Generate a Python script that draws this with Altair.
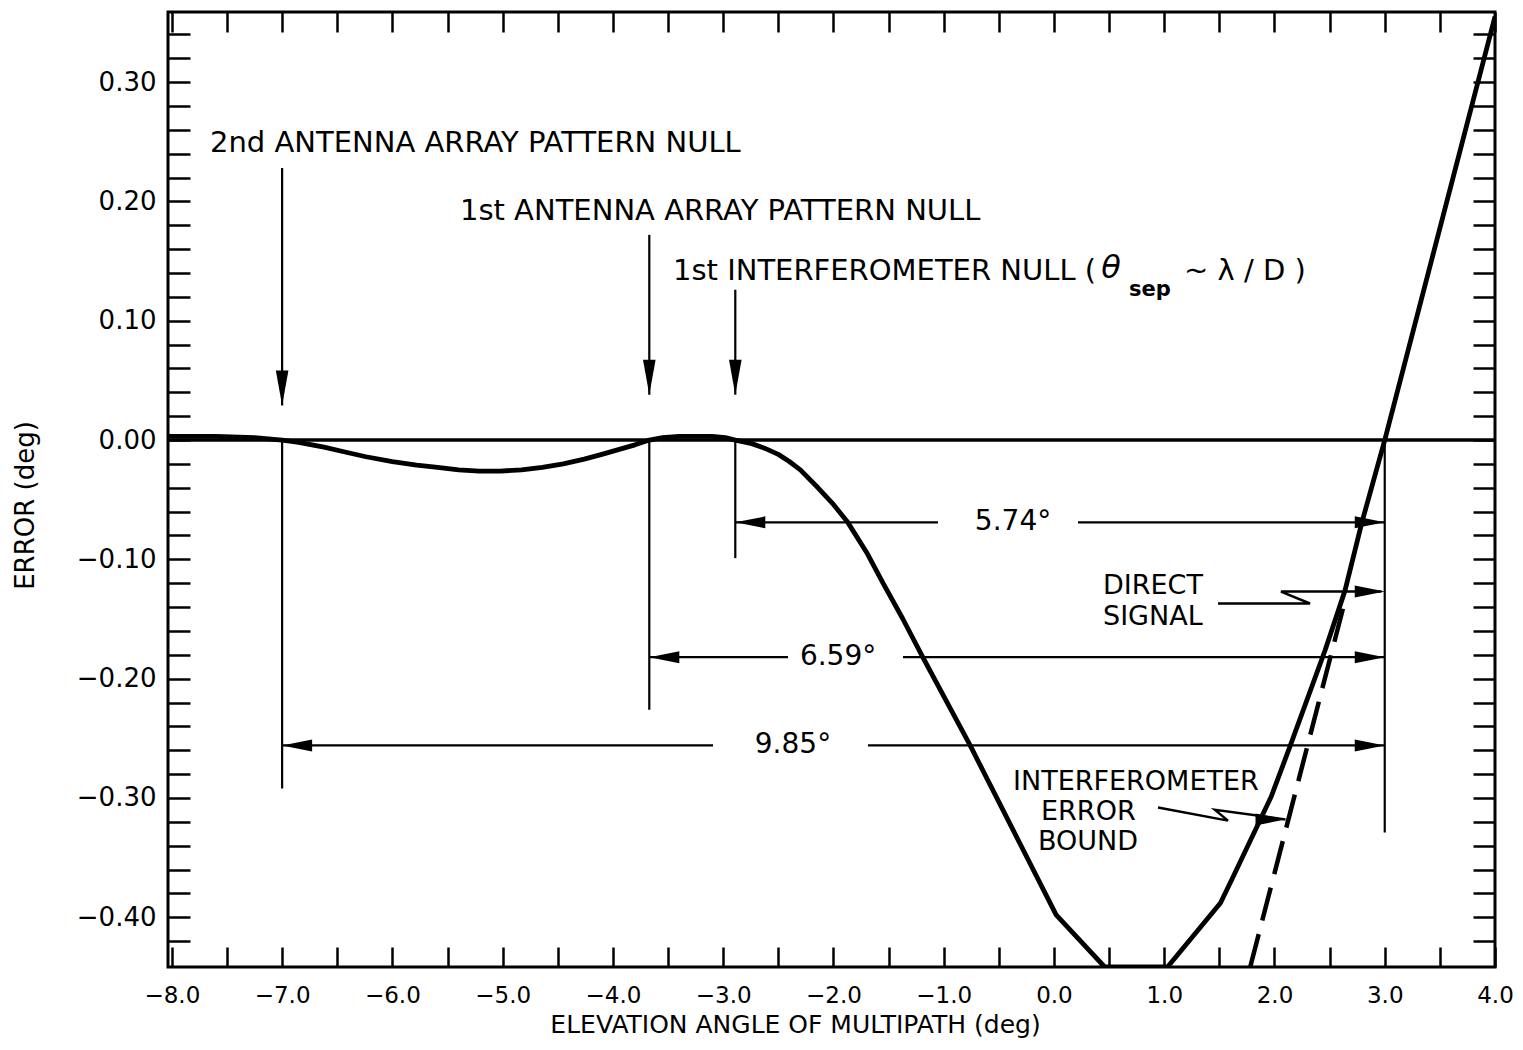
import altair as alt
import pandas as pd

# ---------------- data ----------------
# main (solid) error curve
curve_x = [-8.035, -7.6, -7.25, -7.0, -6.85, -6.62, -6.43, -6.24, -6.0, -5.78, -5.59, -5.40,
           -5.21, -5.02, -4.83, -4.64, -4.45, -4.26, -4.10, -3.95, -3.80, -3.67, -3.55, -3.40,
           -3.10, -2.98, -2.89, -2.74, -2.62, -2.50, -2.40, -2.30, -2.14, -2.00, -1.87, -1.70,
           -1.55, -1.37, -1.19, -0.76, -0.37, 0.02, 0.46, 1.03, 1.51, 1.61, 1.97, 2.14, 2.46,
           2.64, 2.79, 3.0, 4.0]
curve_y = [0.003, 0.003, 0.002, 0.0, -0.002, -0.006, -0.010, -0.014, -0.018, -0.021, -0.023, -0.025,
           -0.026, -0.026, -0.025, -0.023, -0.020, -0.016, -0.012, -0.008, -0.004, 0.0, 0.002, 0.003,
           0.003, 0.002, 0.0, -0.003, -0.007, -0.012, -0.018, -0.025, -0.040, -0.054, -0.069, -0.094,
           -0.120, -0.150, -0.182, -0.256, -0.327, -0.398, -0.4417, -0.4417, -0.388, -0.369, -0.299,
           -0.257, -0.176, -0.126, -0.070, 0.0, 0.355]

# dashed interferometer error bound
dash_x = [1.78, 2.65]
dash_y = [-0.4417, -0.131]

# null markers (down arrows) and drop lines
null_x = [-7.0, -3.67, -2.89]
null_shaft_top = [0.228, 0.172, 0.126]
null_tip = [0.029, 0.038, 0.038]
drop_x = [-7.0, -3.67, -2.89, 3.0]
drop_bottom = [-0.292, -0.226, -0.099, -0.329]

# dimension lines
dim_labels = ["5.74°", "6.59°", "9.85°"]
dim_y = [-0.069, -0.182, -0.256]
dim_left = [-2.89, -3.67, -7.0]
dim_right = [3.0, 3.0, 3.0]
dim_gap_left = [-1.052, -2.412, -3.092]
dim_gap_right = [0.218, -1.369, -1.687]
dim_label_x = [-0.371, -1.958, -2.367]

# leaders
direct_leader_x = [1.488, 2.322, 2.059, 2.97]
direct_leader_y = [-0.137, -0.137, -0.127, -0.127]
bound_leader_x = [0.944, 1.578, 1.46, 2.10]
bound_leader_y = [-0.308, -0.319, -0.310, -0.318]
right_tip_x = [3.0, 2.10]
right_tip_y = [-0.127, -0.318]

# annotation texts (left aligned)
note_text = ["2nd ANTENNA  ARRAY PATTERN NULL", "1st ANTENNA ARRAY PATTERN NULL",
             "1st INTERFEROMETER NULL (", "~  λ / D )", "DIRECT", "SIGNAL",
             "INTERFEROMETER", "ERROR", "BOUND"]
note_x = [-7.654, -5.387, -3.455, 1.18, 0.445, 0.445, -0.371, -0.117, -0.145]
note_y = [0.249, 0.192, 0.142, 0.142, -0.122, -0.148, -0.287, -0.312, -0.337]
note_size = [29, 29, 29, 29, 27, 27, 27, 27, 27]
theta_text = ["θ"]
theta_x = [0.43]
theta_y = [0.144]
sub_text = ["sep"]
sub_x = [0.68]
sub_y = [0.126]

# axes
x_ticks = [-8.0, -7.5, -7.0, -6.5, -6.0, -5.5, -5.0, -4.5, -4.0, -3.5, -3.0, -2.5, -2.0,
           -1.5, -1.0, -0.5, 0.0, 0.5, 1.0, 1.5, 2.0, 2.5, 3.0, 3.5, 4.0]
y_ticks = [round(-0.42 + 0.02 * i, 2) for i in range(39)]
x_domain = [-8.035, 4.0]
y_domain = [-0.4417, 0.3588]

FONT = "DejaVu Sans"
INK = "black"

# ---------------- tables ----------------
curve_df = pd.DataFrame({"x": curve_x, "y": curve_y})
dash_df = pd.DataFrame({"x": dash_x, "y": dash_y})
vert_df = pd.DataFrame({
    "x": null_x + drop_x,
    "y": null_shaft_top + [0.0] * len(drop_x),
    "y2": null_tip + drop_bottom,
})
horiz_df = pd.DataFrame({
    "x": dim_left + dim_gap_right,
    "x2": dim_gap_left + dim_right,
    "y": dim_y + dim_y,
})
leader_df = pd.DataFrame({
    "x": direct_leader_x + bound_leader_x,
    "y": direct_leader_y + bound_leader_y,
    "g": ["d"] * 4 + ["b"] * 4,
    "o": list(range(4)) + list(range(4)),
})
down_df = pd.DataFrame({"x": null_x, "y": null_tip})
left_df = pd.DataFrame({"x": dim_left, "y": dim_y})
right_df = pd.DataFrame({"x": dim_right + right_tip_x, "y": dim_y + right_tip_y})
note_df = pd.DataFrame({"t": note_text, "x": note_x, "y": note_y, "s": note_size})
dimlab_df = pd.DataFrame({"t": dim_labels, "x": dim_label_x, "y": dim_y})
theta_df = pd.DataFrame({"t": theta_text, "x": theta_x, "y": theta_y})
sub_df = pd.DataFrame({"t": sub_text, "x": sub_x, "y": sub_y})
zero_df = pd.DataFrame({"y": [0.0]})

XS = alt.Scale(domain=x_domain, nice=False, zero=False)
YS = alt.Scale(domain=y_domain, nice=False, zero=False)

x_bottom = alt.Axis(
    orient="bottom", values=x_ticks, tickSize=20, offset=-20, domain=False, grid=False,
    tickColor=INK, tickWidth=2.5,
    labelExpr="datum.value % 1 == 0 ? format(datum.value, '.1f') : ''",
    labelFont=FONT, labelFontSize=23, labelColor=INK, labelPadding=17,
    labelOverlap=False, labelFlush=False, labelBound=False,
    title="ELEVATION ANGLE OF MULTIPATH (deg)", titleFont=FONT, titleFontSize=25,
    titleFontWeight="normal", titleColor=INK, titleX=627, titleY=65,
    titleBaseline="top", titleAlign="center",
)
y_left = alt.Axis(
    orient="left", values=y_ticks, tickSize=22, offset=-22, domain=False, grid=False,
    tickColor=INK, tickWidth=2.5,
    labelExpr="abs(round(datum.value * 100)) % 10 == 0 ? format(datum.value, '.2f') : ''",
    labelFont=FONT, labelFontSize=26, labelColor=INK, labelPadding=12,
    labelOverlap=False, labelFlush=False, labelBound=False,
    title="ERROR (deg)", titleFont=FONT, titleFontSize=26, titleFontWeight="normal",
    titleColor=INK, titleX=-152, titleY=493, titleAngle=270, titleBaseline="bottom",
    titleAlign="center",
)
x_top = alt.Axis(
    orient="top", values=x_ticks, tickSize=20, offset=-20, domain=False, grid=False,
    tickColor=INK, tickWidth=2.5, labels=False, title=None,
)
y_right = alt.Axis(
    orient="right", values=y_ticks, tickSize=22, offset=-22, domain=False, grid=False,
    tickColor=INK, tickWidth=2.5, labels=False, title=None,
)


def X(field="x", axis=None):
    return alt.X(f"{field}:Q", scale=XS, axis=axis)


def Y(field="y", axis=None):
    return alt.Y(f"{field}:Q", scale=YS, axis=axis)


zero = alt.Chart(zero_df).mark_rule(color=INK, strokeWidth=3.5).encode(y=Y())

curve = alt.Chart(curve_df).mark_line(color=INK, strokeWidth=4.8, clip=True,
                                      strokeJoin="round").encode(
    x=X(axis=x_bottom), y=Y(axis=y_left), order="x:Q")

dashed = alt.Chart(dash_df).mark_line(color=INK, strokeWidth=4.5, strokeDash=[34, 14],
                                      clip=True).encode(x=X(), y=Y())

verts = alt.Chart(vert_df).mark_rule(color=INK, strokeWidth=2.2).encode(
    x=X(axis=x_top), y=Y(axis=y_right), y2="y2:Q")

horiz = alt.Chart(horiz_df).mark_rule(color=INK, strokeWidth=2.2).encode(
    x=X(), x2="x2:Q", y=Y())

leaders = alt.Chart(leader_df).mark_line(color=INK, strokeWidth=2.5).encode(
    x=X(), y=Y(), detail="g:N", order="o:Q")

DOWN = "M -0.36 -2 L 0.36 -2 L 0 0 Z"
LEFT = "M 0 0 L 2 -0.4 L 2 0.4 Z"
RIGHT = "M 0 0 L -2 -0.4 L -2 0.4 Z"

down_heads = alt.Chart(down_df).mark_point(shape=DOWN, size=1225, filled=True, color=INK,
                                           opacity=1, strokeWidth=0).encode(x=X(), y=Y())
left_heads = alt.Chart(left_df).mark_point(shape=LEFT, size=900, filled=True, color=INK,
                                           opacity=1, strokeWidth=0).encode(x=X(), y=Y())
right_heads = alt.Chart(right_df).mark_point(shape=RIGHT, size=900, filled=True, color=INK,
                                             opacity=1, strokeWidth=0).encode(x=X(), y=Y())

notes = alt.Chart(note_df).mark_text(align="left", baseline="middle", font=FONT,
                                     color=INK).encode(
    x=X(), y=Y(), text="t:N", size=alt.Size("s:Q", scale=None))

dimlabs = alt.Chart(dimlab_df).mark_text(align="center", baseline="middle", font=FONT,
                                         fontSize=28, color=INK).encode(
    x=X(), y=Y(), text="t:N")

theta = alt.Chart(theta_df).mark_text(align="left", baseline="middle", font=FONT,
                                      fontSize=32, fontStyle="italic", color=INK).encode(
    x=X(), y=Y(), text="t:N")

sub = alt.Chart(sub_df).mark_text(align="left", baseline="middle", font=FONT,
                                  fontSize=21, fontWeight="bold", color=INK).encode(
    x=X(), y=Y(), text="t:N")

chart = alt.layer(
    zero, curve, dashed, verts, horiz, leaders, down_heads, left_heads, right_heads,
    notes, dimlabs, theta, sub,
).resolve_axis(
    x="independent", y="independent"
).properties(
    width=1327, height=955,
    autosize=alt.AutoSizeParams(type="none"),
    padding={"left": 160, "top": 4, "right": 20, "bottom": 75},
    background="white",
).configure_view(
    stroke=INK, strokeWidth=3,
)

chart.save("out.html", embed_options={"renderer": "svg", "actions": False})
